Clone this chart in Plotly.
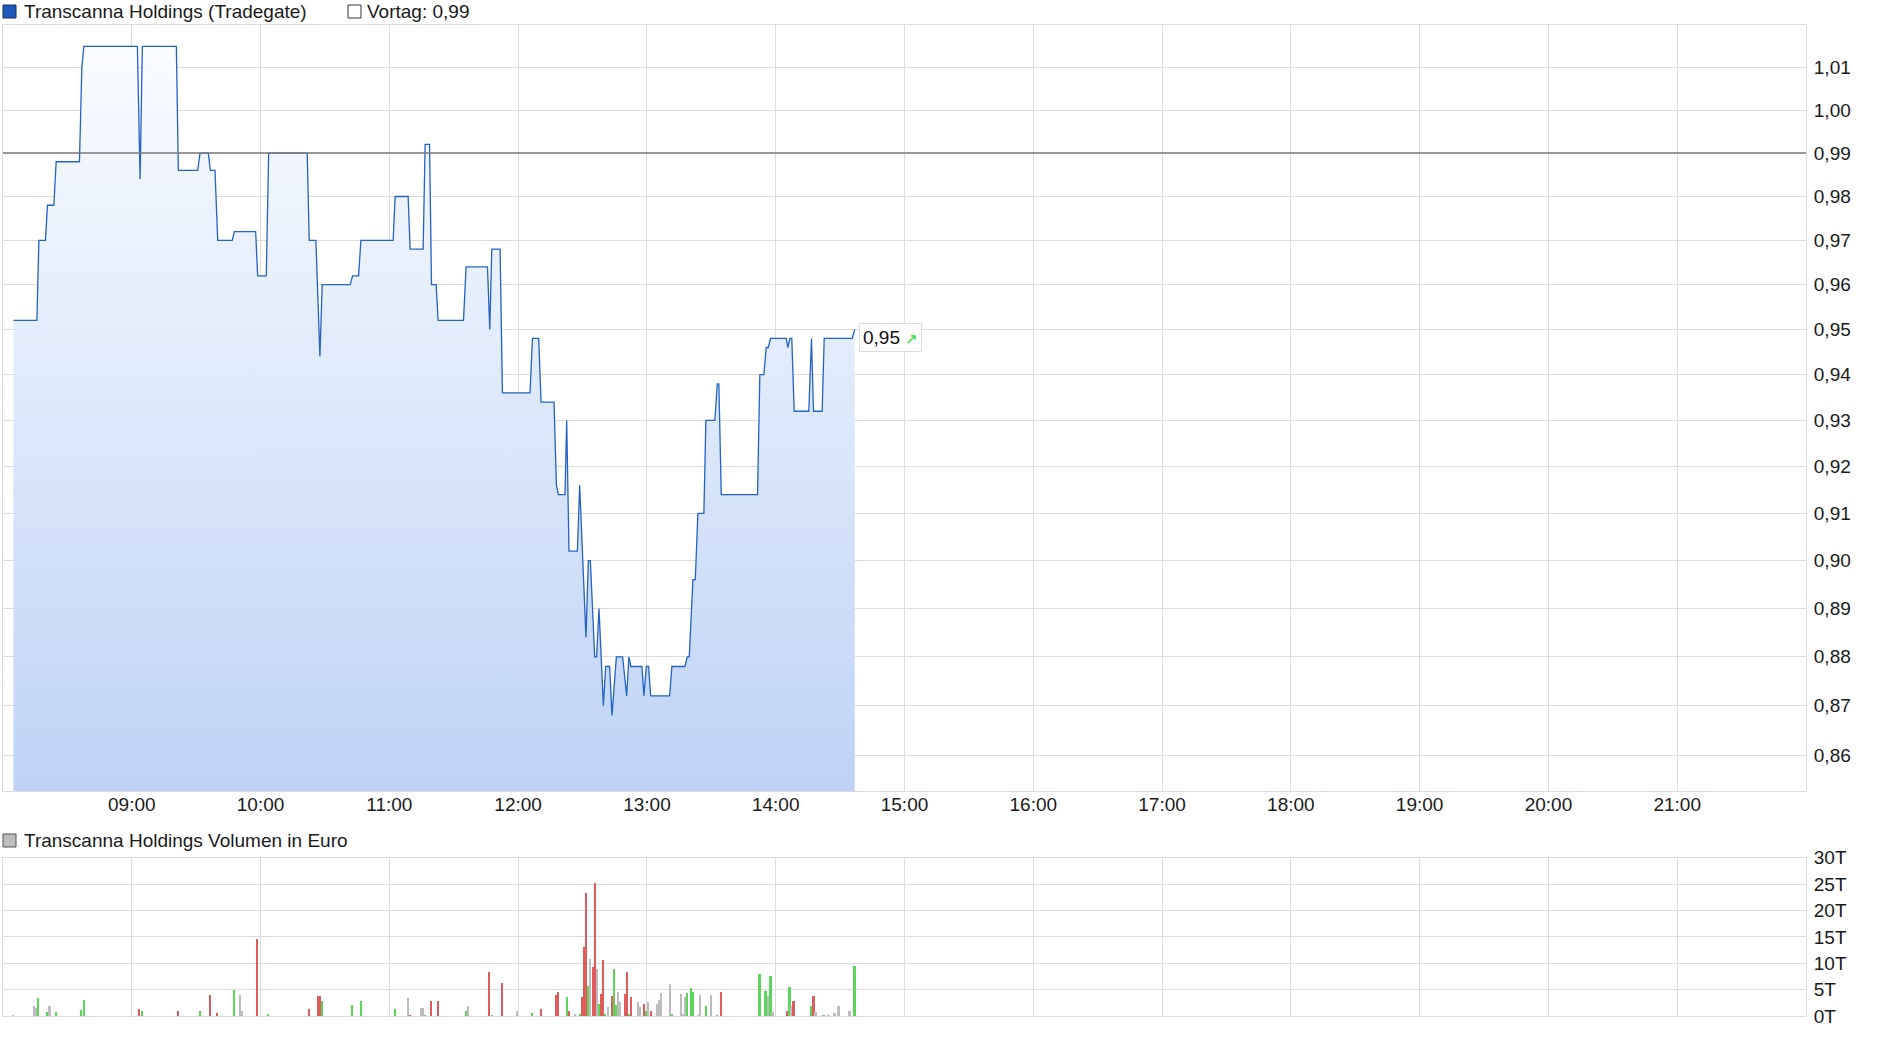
import math
import plotly.graph_objects as go

DAY = "2024-01-02"

# ---- price series (Tradegate) ----
price_times = [
    "08:04:53", "08:15:47", "08:16:43", "08:19:47", "08:20:43", "08:23:41", "08:24:46", "08:35:37",
    "08:36:44", "08:37:40", "09:02:37", "09:03:52", "09:04:56", "09:20:46", "09:21:41", "09:30:43",
    "09:31:47", "09:35:40", "09:36:35", "09:38:46", "09:40:02", "09:46:50", "09:47:46", "09:57:43",
    "09:58:39", "10:02:39", "10:03:46", "10:21:44", "10:22:40", "10:25:47", "10:27:39", "10:28:43",
    "10:41:45", "10:42:52", "10:45:40", "10:46:44", "11:01:46", "11:02:42", "11:08:45", "11:09:41",
    "11:15:44", "11:16:40", "11:18:43", "11:19:38", "11:21:47", "11:22:43", "11:34:32", "11:35:45",
    "11:45:43", "11:46:47", "11:47:43", "11:51:35", "11:52:41", "12:05:32", "12:06:40", "12:09:35",
    "12:10:40", "12:16:43", "12:17:50", "12:18:46", "12:21:50", "12:22:37", "12:23:41", "12:27:36",
    "12:28:40", "12:31:36", "12:32:43", "12:33:39", "12:35:40", "12:36:35", "12:37:40", "12:39:43",
    "12:40:47", "12:42:38", "12:43:43", "12:45:46", "12:48:41", "12:50:33", "12:51:37", "12:52:33",
    "12:57:40", "12:58:36", "12:59:43", "13:00:47", "13:01:44", "13:10:34", "13:11:38", "13:17:41",
    "13:18:49", "13:19:44", "13:21:25", "13:22:32", "13:23:44", "13:26:32", "13:27:28", "13:31:39",
    "13:32:46", "13:33:31", "13:34:38", "13:51:32", "13:52:36", "13:54:28", "13:55:35", "13:56:31",
    "13:57:35", "14:04:53", "14:05:38", "14:06:34", "14:07:29", "14:08:37", "14:15:25", "14:16:40",
    "14:17:36", "14:21:38", "14:22:35", "14:35:37", "14:36:49",
]
price_values = [
    0.952, 0.952, 0.970, 0.970, 0.978, 0.978, 0.988, 0.988,
    1.010, 1.015, 1.015, 0.984, 1.015, 1.015, 0.986, 0.986,
    0.990, 0.990, 0.986, 0.986, 0.970, 0.970, 0.972, 0.972,
    0.962, 0.962, 0.990, 0.990, 0.970, 0.970, 0.944, 0.960,
    0.960, 0.962, 0.962, 0.970, 0.970, 0.980, 0.980, 0.968,
    0.968, 0.992, 0.992, 0.960, 0.960, 0.952, 0.952, 0.964,
    0.964, 0.950, 0.968, 0.968, 0.936, 0.936, 0.948, 0.948,
    0.934, 0.934, 0.916, 0.914, 0.914, 0.930, 0.902, 0.902,
    0.916, 0.884, 0.900, 0.900, 0.880, 0.880, 0.890, 0.870,
    0.878, 0.878, 0.868, 0.880, 0.880, 0.872, 0.880, 0.878,
    0.878, 0.872, 0.878, 0.878, 0.872, 0.872, 0.878, 0.878,
    0.880, 0.880, 0.896, 0.896, 0.910, 0.910, 0.930, 0.930,
    0.938, 0.938, 0.914, 0.914, 0.940, 0.940, 0.946, 0.946,
    0.948, 0.948, 0.946, 0.948, 0.948, 0.932, 0.932, 0.948,
    0.932, 0.932, 0.948, 0.948, 0.950,
]
prev_close = 0.99

# ---- volume series (Euro) ----
vol_times = [
    "08:04:54", "08:14:41", "08:15:37", "08:16:32", "08:20:44", "08:21:49", "08:24:55", "08:36:33",
    "08:37:57", "09:03:33", "09:04:57", "09:21:43", "09:31:57", "09:36:36", "09:39:52", "09:47:46",
    "09:50:34", "09:51:30", "09:58:29", "10:03:36", "10:22:41", "10:26:52", "10:27:48", "10:28:44",
    "10:42:42", "10:46:53", "11:02:43", "11:08:46", "11:09:42", "11:14:49", "11:15:45", "11:16:41",
    "11:19:28", "11:22:44",
    "11:35:46", "11:36:41", "11:46:28", "11:47:52", "11:52:31", "11:59:30", "12:06:29", "12:10:40",
    "12:17:40", "12:18:35", "12:22:47", "12:23:43", "12:26:30", "12:28:50", "12:29:46", "12:30:41",
    "12:31:37", "12:32:33", "12:33:29", "12:34:53", "12:35:49", "12:36:44", "12:37:40", "12:38:36",
    "12:39:32", "12:40:28", "12:41:52", "12:43:43", "12:44:39", "12:45:35", "12:46:31", "12:47:27",
    "12:49:46", "12:50:42", "12:51:38", "12:52:34", "12:55:50", "12:56:46", "12:58:37", "12:59:33",
    "13:00:29", "13:01:53", "13:04:40", "13:05:36", "13:06:32", "13:10:43", "13:11:39", "13:15:50",
    "13:16:46", "13:17:42", "13:18:38", "13:20:29", "13:21:25", "13:23:46", "13:24:41", "13:27:29",
    "13:29:48", "13:32:36", "13:34:28", "13:52:37", "13:55:25", "13:56:48", "13:57:44", "13:58:40",
    "14:05:39", "14:06:35", "14:07:31", "14:08:26", "14:16:49", "14:17:45", "14:18:41", "14:22:24",
    "14:24:44", "14:27:32", "14:29:23", "14:34:31", "14:36:50",
]
vol_values = [
    100, 1950, 1570, 3460, 820, 1950, 820, 1200,
    3080, 1380, 1000, 1000, 1000, 4000, 630, 4970,
    4000, 1000, 14600, 440, 1380, 3840, 3840, 2900,
    2140, 2900, 1380, 3460, 130, 1570, 1570, 130,
    2900, 2900,
    1000, 1950, 8370, 130, 6290, 1000, 630, 1380,
    4000, 4600, 3650, 1000, 440, 440, 3650, 13100,
    23300, 5700, 10800, 9300, 25300, 8900, 2300, 4200,
    10600, 440, 1760, 3840, 8900, 2140, 4600, 2700,
    4200, 8370, 440, 3650, 2700, 1760, 2300, 1000,
    2700, 1000, 2300, 3080, 4400, 6100, 440, 4200,
    440, 3650, 4400, 5350, 4600, 130, 4000, 1950,
    4000, 250, 4600, 8000, 4800, 3840, 7600, 820,
    1000, 5500, 1950, 2900, 1950, 3840, 820, 250,
    250, 630, 1950, 1000, 9500,
]
# d = down (red), u = up (green), n = unchanged (grey)
vol_direction = [
    "n", "n", "n", "u", "u", "n", "u", "u",
    "u", "d", "u", "d", "u", "d", "d", "u",
    "n", "n", "d", "u", "d", "d", "d", "u",
    "u", "u", "u", "n", "d", "n", "n", "u",
    "d", "d",
    "u", "n", "d", "u", "d", "n", "u", "d",
    "d", "d", "u", "d", "n", "u", "d", "d",
    "d", "u", "n", "d", "d", "n", "u", "d",
    "d", "u", "n", "d", "u", "u", "n", "n",
    "d", "d", "u", "d", "n", "n", "d", "u",
    "n", "d", "n", "n", "n", "n", "u", "n",
    "n", "n", "u", "u", "u", "n", "n", "u",
    "n", "u", "d", "u", "u", "n", "u", "n",
    "d", "u", "n", "d", "u", "d", "n", "u",
    "n", "n", "n", "n", "u",
]

hour_ticks = ["09:00", "10:00", "11:00", "12:00", "13:00", "14:00", "15:00",
              "16:00", "17:00", "18:00", "19:00", "20:00", "21:00"]
price_ticks = [0.86, 0.87, 0.88, 0.89, 0.90, 0.91, 0.92, 0.93, 0.94,
               0.95, 0.96, 0.97, 0.98, 0.99, 1.00, 1.01]
vol_ticks = [0, 5000, 10000, 15000, 20000, 25000, 30000]
vol_tick_labels = ["0T", "5T", "10T", "15T", "20T", "25T", "30T"]

title_price = "Transcanna Holdings (Tradegate)"
title_volume = "Transcanna Holdings Volumen in Euro"

FONT = "Liberation Sans, Arial, sans-serif"
FS = 19
GRID = "#dcdcdc"

def ts(t):
    return f"{DAY} {t}"

px_times = [ts(t) for t in price_times]
vx_times = [ts(t) for t in vol_times]
x_start, x_end = ts("08:00:00"), ts("22:00:00")
y_lo, y_hi = 0.8528, 1.0201
dir_colors = {"d": "#e05c5c", "u": "#5ad65a", "n": "#bcbcbc"}

fig = go.Figure()

# baseline for area fill (below visible range)
fig.add_trace(go.Scatter(x=[px_times[0], px_times[-1]], y=[0.84, 0.84], mode="lines",
                         line=dict(width=0, color="rgba(0,0,0,0)"), showlegend=False,
                         hoverinfo="skip", xaxis="x", yaxis="y"))
fig.add_trace(go.Scatter(
    x=px_times, y=price_values, mode="lines",
    line=dict(color="#2462c6", width=1.3),
    fill="tonexty",
    fillgradient=dict(type="vertical",
                      colorscale=[[0, "#b8cff5"], [0.5, "#d9e6fa"], [1, "#fafcff"]]),
    showlegend=False, xaxis="x", yaxis="y"))

# previous close line
fig.add_trace(go.Scatter(x=[x_start, x_end], y=[prev_close, prev_close], mode="lines",
                         line=dict(color="#7a7a7a", width=1.5), showlegend=False,
                         hoverinfo="skip", xaxis="x", yaxis="y"))

# volume bars
fig.add_trace(go.Bar(x=vx_times, y=vol_values,
                     marker=dict(color=[dir_colors[d] for d in vol_direction], line=dict(width=0)),
                     width=50000, showlegend=False, xaxis="x2", yaxis="y2"))

axis_common = dict(showgrid=True, gridcolor=GRID, gridwidth=1, showline=True, linecolor=GRID,
                   linewidth=1, mirror=True, zeroline=False,
                   tickfont=dict(family=FONT, size=FS, color="#1a1a1a"))

fig.update_layout(
    width=1880, height=1037,
    margin=dict(l=3, r=74, t=25, b=21),
    paper_bgcolor="white", plot_bgcolor="white",
    separators=",.",
    font=dict(family=FONT, size=FS, color="#1a1a1a"),
    bargap=0,
    xaxis=dict(domain=[0, 1], type="date", range=[x_start, x_end], anchor="y",
               tickvals=[ts(h) for h in hour_ticks], tickformat="%H:%M",
               ticks="", ticklabelstandoff=-4, **axis_common),
    yaxis=dict(domain=[0.227, 1], type="log", range=[math.log10(y_lo), math.log10(y_hi)],
               side="right", anchor="x", tickvals=price_ticks, tickformat=".2f",
               ticks="outside", ticklen=3, tickcolor="rgba(0,0,0,0)", **axis_common),
    xaxis2=dict(domain=[0, 1], type="date", range=[x_start, x_end], anchor="y2",
                tickvals=[ts(h) for h in hour_ticks], showticklabels=False, **axis_common),
    yaxis2=dict(domain=[0, 0.1597], range=[0, 30000], side="right", anchor="x2",
                tickvals=vol_ticks, ticktext=vol_tick_labels,
                ticks="outside", ticklen=3, tickcolor="rgba(0,0,0,0)", **axis_common),
)

# legend-like headers
def sq(x0, y0, fill, line):
    fig.add_shape(type="rect", xref="paper", yref="paper", x0=x0, x1=x0 + 13 / 1803,
                  y0=y0, y1=y0 + 13 / 991, fillcolor=fill, line=dict(color=line, width=1))

sq(0.0, (1016 - 18) / 991, "#1f5bbf", "#1b2f55")
sq((348 - 3) / 1803, (1016 - 18) / 991, "white", "#333333")
sq(0.0, (1016 - 847) / 991, "#bdbdbd", "#555555")

fig.add_annotation(xref="paper", yref="paper", x=(22 - 3) / 1803, y=(1016 - 11) / 991,
                   xanchor="left", yanchor="middle", showarrow=False, text=title_price,
                   font=dict(family=FONT, size=FS, color="#1a1a1a"))
fig.add_annotation(xref="paper", yref="paper", x=(365 - 3) / 1803, y=(1016 - 11) / 991,
                   xanchor="left", yanchor="middle", showarrow=False,
                   text="Vortag: " + f"{prev_close:.2f}".replace(".", ","),
                   font=dict(family=FONT, size=FS, color="#1a1a1a"))
fig.add_annotation(xref="paper", yref="paper", x=(22 - 3) / 1803, y=(1016 - 840) / 991,
                   xanchor="left", yanchor="middle", showarrow=False, text=title_volume,
                   font=dict(family=FONT, size=FS, color="#1a1a1a"))

# last price label
last_txt = f"{price_values[-1]:.2f}".replace(".", ",")
fig.add_annotation(xref="x", yref="y", x=px_times[-1], y=math.log10(price_values[-1]),
                   xanchor="left", yanchor="middle", xshift=4, yshift=-8, showarrow=False,
                   text=last_txt + " <span style='color:#1fdc1f;font-size:15px'>↗</span>",
                   bgcolor="white", bordercolor="#dddddd", borderwidth=1, borderpad=3,
                   font=dict(family=FONT, size=FS, color="#111111"))

fig.write_html("out.html", config={"displayModeBar": False},
               post_script="document.body.style.margin='0';document.body.style.overflow='hidden';")
